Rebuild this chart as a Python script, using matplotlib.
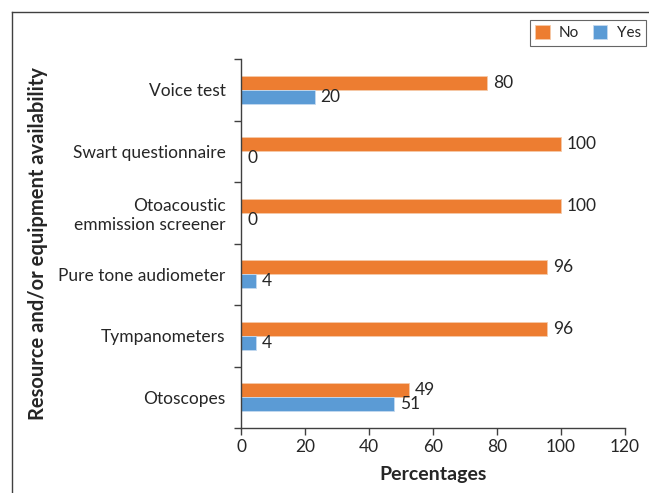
import matplotlib
matplotlib.use('Agg')
from matplotlib import pyplot as plt
from matplotlib.lines import Line2D
import numpy as np

# Data (top to bottom as shown)
categories = ['Voice test', 'Swart questionnaire', 'Otoacoustic\nemmission screener',
              'Pure tone audiometer', 'Tympanometers', 'Otoscopes']
no_bars = [77, 100, 100, 95.5, 95.5, 52.5]
yes_bars = [23, 0, 0, 4.6, 4.6, 47.8]
no_labels = ['80', '100', '100', '96', '96', '49']
yes_labels = ['20', '0', '0', '4', '4', '51']
xticks = [0, 20, 40, 60, 80, 100, 120]

ORANGE = '#ED7D31'
BLUE = '#5B9BD5'
TXT = '#262626'

plt.rcParams['font.family'] = ['Lato', 'DejaVu Sans']

W, H = 649, 493
fig = plt.figure(figsize=(W / 100, H / 100), dpi=100)
ax = fig.add_axes([241 / W, 1 - 428 / H, (625 - 241) / W, (428 - 59) / H])

n = len(categories)
y = np.arange(n)[::-1].astype(float)  # top category at highest y
h = 0.23

ax.barh(y + h / 2, no_bars, height=h, color=ORANGE, edgecolor='#F6C9A8', linewidth=0.6, label='No')
ax.barh(y - h / 2, yes_bars, height=h, color=BLUE, edgecolor='#C5DAEF', linewidth=0.6, label='Yes')

for yi, v, t in zip(y, no_bars, no_labels):
    ax.text(v + 1.9, yi + h / 2, t, va='center', ha='left', fontsize=12.5, color=TXT)
for yi, v, t in zip(y, yes_bars, yes_labels):
    ax.text(v + 1.9, yi - h / 2, t, va='center', ha='left', fontsize=12.5, color=TXT)

ax.set_xlim(0, 120)
ax.set_ylim(-0.5, n - 0.5)
ax.set_xticks(xticks)
ax.set_xticklabels([str(t) for t in xticks], fontsize=12.5, color=TXT)

ax.set_yticks(y)
ax.set_yticklabels(categories, fontsize=12.5, color=TXT, ha='right', multialignment='right')
ax.set_yticks(np.arange(-0.5, n, 1.0), minor=True)
ax.tick_params(axis='y', which='major', length=0, pad=11)
ax.tick_params(axis='y', which='minor', length=5, color='#404040', width=1)
ax.tick_params(axis='x', length=5, color='#404040', width=1, pad=3)

for s in ['top', 'right']:
    ax.spines[s].set_visible(False)
for s in ['left', 'bottom']:
    ax.spines[s].set_color('#404040')
    ax.spines[s].set_linewidth(1)

ax.set_xlabel('Percentages', fontsize=14, fontweight='bold', color=TXT, labelpad=8)
ax.set_ylabel('Resource and/or equipment availability', fontsize=14.5, fontweight='bold', color=TXT)
ax.yaxis.set_label_coords(-(241 - 48) / (625 - 241), 0.5)

leg = ax.legend(loc='upper right', bbox_to_anchor=(646 / W, 1 - 20 / H), bbox_transform=fig.transFigure,
                ncol=2, frameon=True, fancybox=False, fontsize=11, handlelength=0.95, handleheight=0.95,
                handletextpad=0.6, columnspacing=0.9, borderpad=0.35, borderaxespad=0,
                edgecolor='#404040')
leg.get_frame().set_linewidth(0.8)
for t in leg.get_texts():
    t.set_color(TXT)

# frame lines on the figure
fig.add_artist(Line2D([12 / W, 1], [1 - 12 / H, 1 - 12 / H], color='#404040', lw=1))
fig.add_artist(Line2D([12 / W, 12 / W], [0, 1 - 12 / H], color='#404040', lw=1))

fig.savefig('out.png', dpi=100)
